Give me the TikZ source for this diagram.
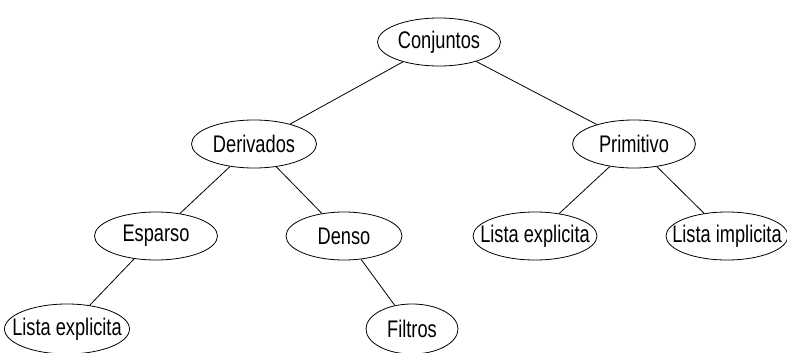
\documentclass[tikz,border=0pt]{standalone}
\usepackage{fontspec}
\setmainfont[FakeStretch=0.76]{Liberation Sans}
\usetikzlibrary{shapes.geometric}
\newcommand{\ovtext}[1]{\makebox[0pt]{#1}}
\begin{document}
\begin{tikzpicture}[x=1pt,y=-1pt,
  oval/.style={draw,ellipse,line width=0.8pt,minimum width=123pt,minimum height=48pt,inner sep=0pt,font=\fontsize{24}{26}\selectfont},
  link/.style={draw,line width=0.8pt}]
\clip (0,0) rectangle (787,353);
\fill[white] (0,0) rectangle (787,353);
\node[oval] (conj) at (439,42) {\ovtext{Conjuntos}};
\node[oval,minimum width=125pt] (deriv) at (254,144) {\ovtext{Derivados}};
\node[oval] (prim) at (634,144) {\ovtext{Primitivo}};
\node[oval] (esp) at (156,236) {\ovtext{Esparso}};
\node[oval,minimum width=116pt] (den) at (344,236) {\ovtext{Denso}};
\node[oval,minimum width=124pt] (le1) at (535,236) {\ovtext{Lista explicita}};
\node[oval,minimum width=122pt] (li) at (727,236) {\ovtext{Lista implicita}};
\node[oval,minimum width=125pt,minimum height=50pt] (le2) at (67,329) {\ovtext{Lista explicita}};
\node[oval,minimum width=92pt,minimum height=50pt] (fil) at (412,329) {\ovtext{Filtros}};
\path[link] (conj) -- (deriv);
\path[link] (conj) -- (prim);
\path[link] (deriv) -- (esp);
\path[link] (deriv) -- (den);
\path[link] (prim) -- (le1);
\path[link] (prim) -- (li);
\path[link] (esp) -- (le2);
\path[link] (den) -- (fil);
\end{tikzpicture}
\end{document}
